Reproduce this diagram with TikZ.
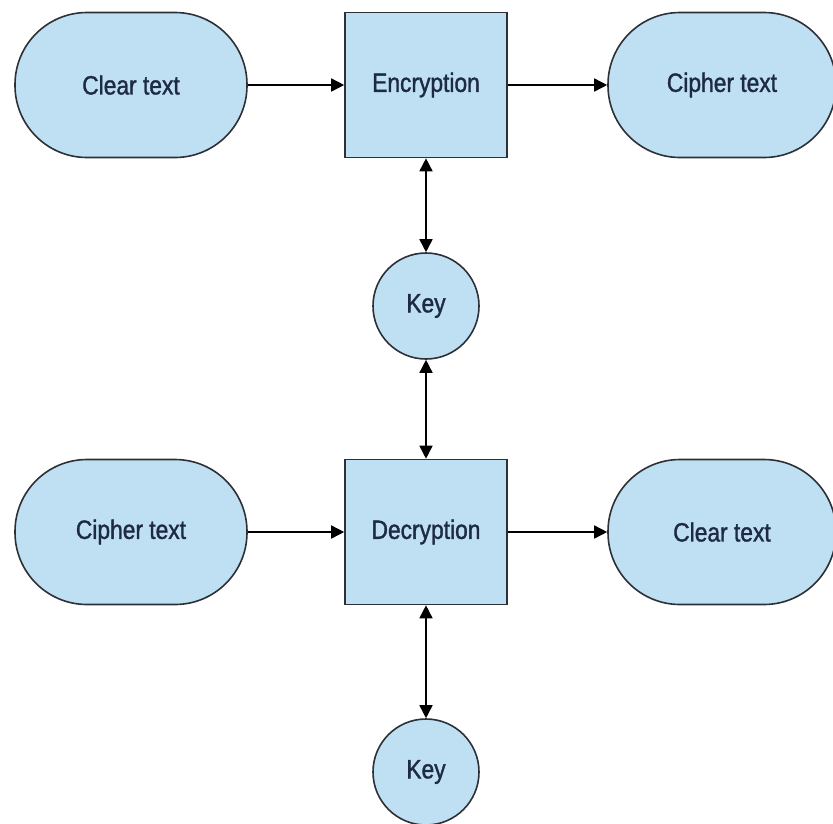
\documentclass[tikz,border=0pt]{standalone}
\usepackage{fontspec}
\setmainfont{Liberation Sans}[FakeStretch=0.86,FakeBold=1.3]
\usetikzlibrary{arrows.meta}

\definecolor{boxblue}{RGB}{190,224,242}
\definecolor{inkline}{RGB}{45,48,55}
\definecolor{inktext}{RGB}{30,42,68}

\tikzset{
  base/.style={draw=inkline, line width=1.6pt, fill=boxblue, text=inktext,
    font=\fontsize{26.5}{31}\selectfont, inner sep=0pt},
  pill/.style={base, rectangle, rounded corners=72pt, minimum width=232pt, minimum height=145pt},
  proc/.style={base, rectangle, minimum width=162pt, minimum height=145pt},
  keyc/.style={base, circle, minimum size=106pt},
  flow/.style={line width=1.6pt, -{Triangle[length=13pt,width=13pt]}},
  both/.style={line width=1.6pt, {Triangle[length=13pt,width=13pt]}-{Triangle[length=13pt,width=13pt]}}
}

\begin{document}
\begin{tikzpicture}[x=1pt,y=-1pt]
\useasboundingbox (0,0) rectangle (833,823);

% Top row
\node[pill] (clear1) at (131,85) {Clear text};
\node[proc] (enc) at (426,85) {Encryption};
\node[pill, minimum width=228pt] (cipher1) at (722,85) {Cipher text};
% Key
\node[keyc] (key1) at (426,306) {Key};

% Bottom row
\node[pill] (cipher2) at (131,532) {Cipher text};
\node[proc] (dec) at (426,532) {Decryption};
\node[pill, minimum width=228pt] (clear2) at (722,532) {Clear text};
% Key
\node[keyc] (key2) at (426,772) {Key};

%Straight Lines
\draw[flow] (clear1) -- (enc);
\draw[flow] (enc) -- (cipher1);
\draw[both] (enc) -- (key1);
\draw[both] (key1) -- (dec);
\draw[flow] (cipher2) -- (dec);
\draw[flow] (dec) -- (clear2);
\draw[both] (dec) -- (key2);

\end{tikzpicture}
\end{document}
